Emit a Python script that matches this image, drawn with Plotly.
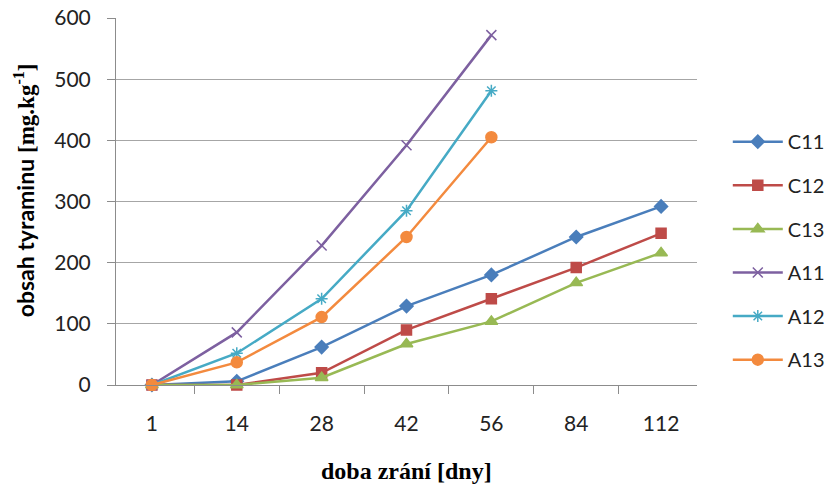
import plotly.graph_objects as go

days = ["1", "14", "28", "42", "56", "84", "112"]
C11 = [0, 6, 62, 129, 180, 242, 292]
C12 = [0, 0, 20, 90, 141, 192, 248]
C13 = [0, 0, 12, 67, 104, 167, 216]
A11 = [0, 86, 228, 392, 572, None, None]
A12 = [0, 52, 141, 285, 481, None, None]
A13 = [0, 37, 111, 242, 405, None, None]

series = [
    ("C11", C11, "#4A7EBB", "diamond", 10),
    ("C12", C12, "#BE4B48", "square", 10),
    ("C13", C13, "#98B954", "triangle-up", 11),
    ("A11", A11, "#7D60A0", "x-thin-open", 10),
    ("A12", A12, "#46AAC5", "asterisk-open", 10),
    ("A13", A13, "#F38A3E", "circle", 11),
]

SERIF = "Liberation Serif, Tinos, Times New Roman, DejaVu Serif, serif"

fig = go.Figure()
for name, vals, col, sym, sz in series:
    fig.add_trace(go.Scatter(
        x=days, y=vals, name=name, mode="lines+markers",
        line=dict(color=col, width=2.5),
        marker=dict(symbol=sym, size=sz, color=col, line=dict(color=col, width=1.5)),
        cliponaxis=False, legendgroup=name,
    ))

fig.update_layout(
    width=828, height=487,
    margin=dict(l=116, r=131, t=18, b=102, autoexpand=False),
    paper_bgcolor="white", plot_bgcolor="white",
    font=dict(family="Lato", size=21, color="#222222"),
    showlegend=True,
    legend=dict(x=1.053, y=0.366, xanchor="left", yanchor="middle",
                traceorder="grouped", tracegroupgap=14.6, itemwidth=50,
                font=dict(family="Lato", size=20, color="#222222")),
    annotations=[
        dict(text="<b>doba zrání [dny]</b>", xref="paper", yref="paper",
             x=0.5, y=-0.234, xanchor="center", yanchor="middle",
             showarrow=False, font=dict(family=SERIF, size=24, color="#000000")),
        dict(text="<b>obsah tyraminu</b> <b><span style=\"font-family:'Liberation Serif', serif\">[mg.kg<sup>-1</sup>]</span></b>",
             xref="paper", yref="paper", x=-0.158, y=0.531,
             xanchor="center", yanchor="middle", textangle=-90,
             showarrow=False, font=dict(family="Lato", size=23, color="#000000")),
    ],
)
fig.update_xaxes(
    type="category", tickson="boundaries", ticks="outside", ticklen=8,
    tickcolor="#8C8C8C", showline=True, linecolor="#8C8C8C", linewidth=1,
    showgrid=False, ticklabelstandoff=20,
)
fig.update_yaxes(
    range=[0, 600], dtick=100, ticks="outside", ticklen=8, tickcolor="#8C8C8C",
    showline=True, linecolor="#8C8C8C", linewidth=1,
    showgrid=True, gridcolor="#A6A6A6", gridwidth=1, zeroline=False,
    ticklabelstandoff=12,
)

fig.write_html("out.html")
